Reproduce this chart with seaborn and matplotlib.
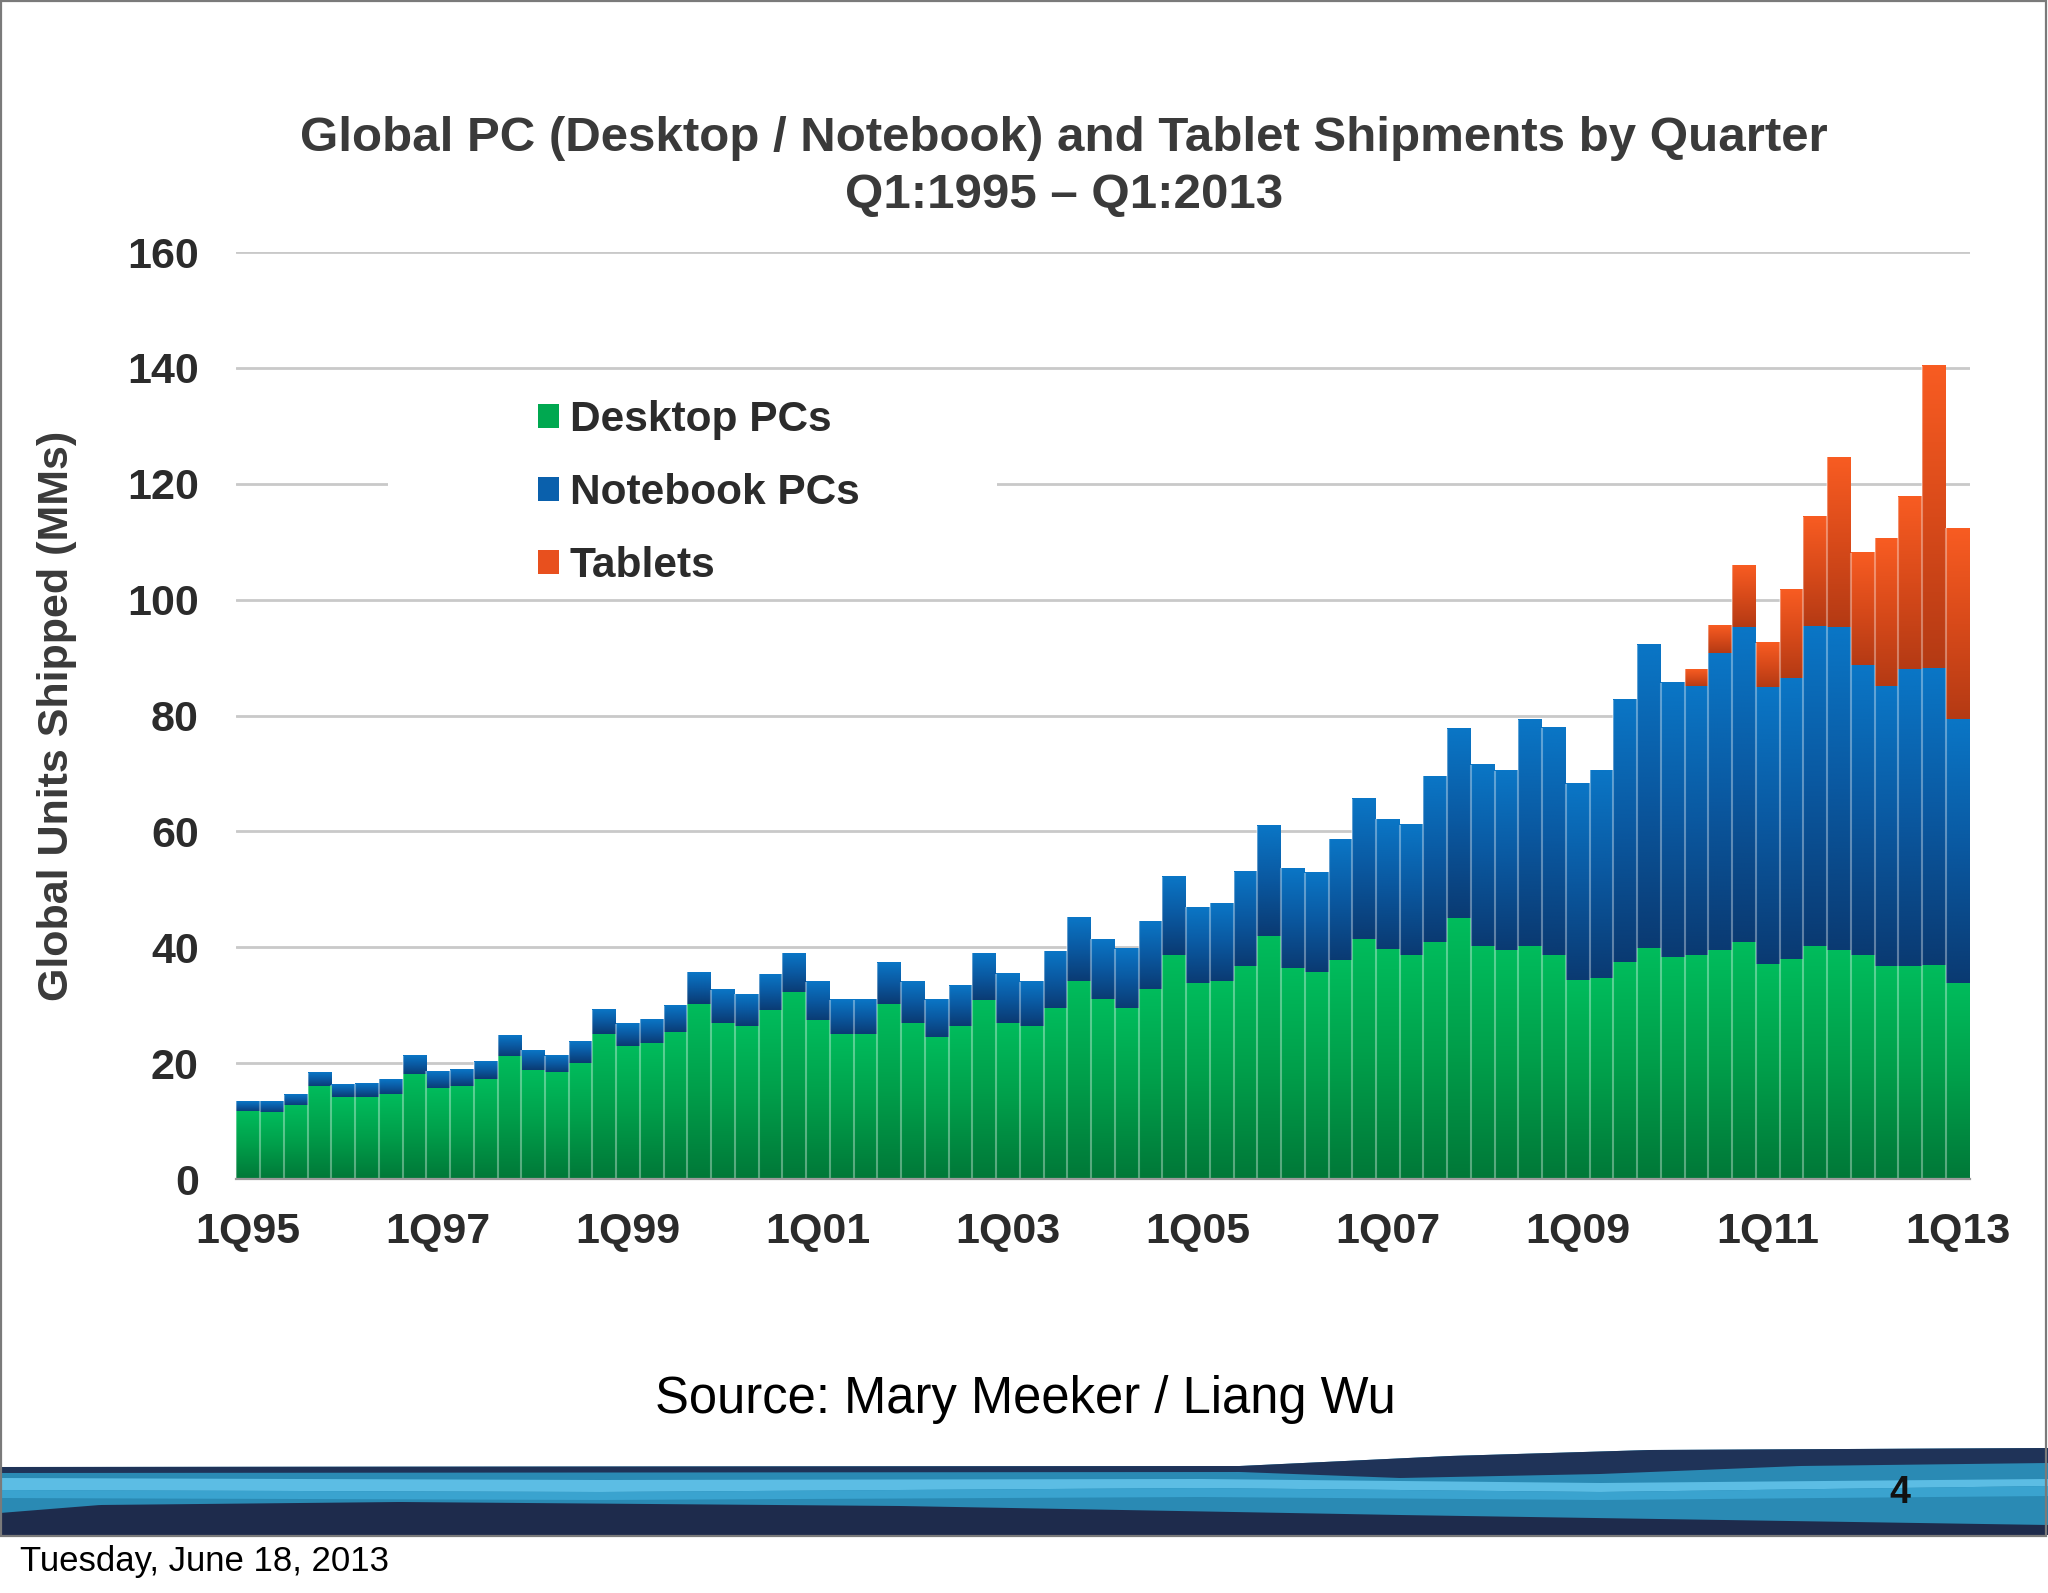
import numpy as np
import pandas as pd
import matplotlib
matplotlib.use("Agg")
import matplotlib.pyplot as plt
import seaborn as sns
from matplotlib.patches import Patch, Rectangle
from matplotlib.colors import LinearSegmentedColormap
import matplotlib.transforms as mtransforms

# ---------------- data ----------------
quarters = [f"{q}Q{y % 100:02d}" for y in range(1995, 2014) for q in range(1, 5)][:73]

desktop = [11.6, 11.4, 12.6, 15.9, 14.1, 14.1, 14.6, 18.0,
           15.6, 16.0, 17.2, 21.1, 18.8, 18.3, 20.0, 25.0,
           22.9, 23.4, 25.2, 30.2, 26.9, 26.4, 29.1, 32.2,
           27.3, 24.9, 24.9, 30.2, 26.9, 24.4, 26.4, 30.8,
           26.9, 26.4, 29.4, 34.1, 31.0, 29.4, 32.7, 38.6,
           33.7, 34.1, 36.7, 41.9, 36.3, 35.7, 37.7, 41.4,
           39.6, 38.6, 40.9, 44.9, 40.2, 39.4, 40.2, 38.6,
           34.3, 34.6, 37.4, 39.7, 38.3, 38.6, 39.4, 40.8,
           37.1, 37.9, 40.2, 39.4, 38.6, 36.7, 36.7, 36.9,
           33.8]

notebook = [1.8, 2.0, 2.0, 2.5, 2.2, 2.3, 2.7, 3.3,
            3.0, 2.9, 3.0, 3.7, 3.4, 3.0, 3.7, 4.2,
            3.9, 4.3, 4.7, 5.5, 5.8, 5.5, 6.3, 6.8,
            6.8, 6.1, 6.1, 7.1, 7.2, 6.6, 7.0, 8.2,
            8.5, 7.7, 9.9, 11.2, 10.4, 10.4, 11.8, 13.6,
            13.2, 13.5, 16.3, 19.0, 17.4, 17.1, 21.0, 24.2,
            22.5, 22.6, 28.6, 32.8, 31.3, 31.1, 39.1, 39.2,
            33.9, 36.0, 45.3, 52.5, 47.4, 46.3, 51.4, 54.5,
            47.8, 48.5, 55.1, 55.9, 49.9, 48.3, 51.2, 51.1,
            45.4]

tablets = [0.0] * 61 + [3.1, 4.8, 10.6, 7.6, 15.2, 19.0, 29.3,
                        19.6, 25.7, 29.9, 52.4, 33.1]

tick_labels = ["1Q95", "1Q97", "1Q99", "1Q01", "1Q03",
               "1Q05", "1Q07", "1Q09", "1Q11", "1Q13"]
series_names = ["Desktop PCs", "Notebook PCs", "Tablets"]

df = pd.DataFrame({"quarter": quarters, "desktop": desktop,
                   "notebook": notebook, "tablets": tablets})
df["pc"] = df["desktop"] + df["notebook"]
df["total"] = df["pc"] + df["tablets"]

# ---------------- style ----------------
sns.set_theme(style="white")
plt.rcParams["font.family"] = ["Liberation Sans", "DejaVu Sans"]

green, blue, orange = "#00a850", "#0a60ac", "#e8501e"
cm_green = LinearSegmentedColormap.from_list("g", ["#007838", "#009e4a", "#00bc5c"])
cm_blue = LinearSegmentedColormap.from_list("b", ["#0a3a72", "#0a58a0", "#0a76c6"])
cm_orange = LinearSegmentedColormap.from_list("o", ["#b43a14", "#d84a1a", "#f85c22"])

fig = plt.figure(figsize=(20.48, 15.93), dpi=100)
fig.patch.set_facecolor("white")

# overlay for slide decorations (pixel coords)
ov = fig.add_axes([0, 0, 1, 1], zorder=0)
ov.set_xlim(0, 2048)
ov.set_ylim(1593, 0)
ov.axis("off")

xs = np.linspace(0, 2048, 500)
top = np.interp(xs, [0, 1240, 1450, 1650, 2048], [1467, 1466, 1456, 1450, 1448])
ov.fill_between(xs, top, 1535, color="#2a8ab4", lw=0)
dark_lo = np.interp(xs, [0, 1240, 1400, 1600, 1800, 2048], [1473, 1472, 1478, 1474, 1466, 1463])
ov.fill_between(xs, top, dark_lo, color="#1f3358", lw=0)
s_up = np.interp(xs, [0, 600, 1200, 1600, 2048], [1478, 1480, 1479, 1483, 1479])
s_lo = np.interp(xs, [0, 600, 1200, 1600, 2048], [1490, 1492, 1488, 1492, 1486])
ov.fill_between(xs, s_up, s_lo, color="#5cbde4", lw=0)
m_lo = np.interp(xs, [0, 600, 1200, 1600, 2048], [1498, 1500, 1497, 1500, 1496])
ov.fill_between(xs, s_lo, m_lo, color="#3aa3cf", lw=0)
b_up = np.interp(xs, [0, 100, 400, 900, 1400, 2048], [1513, 1505, 1502, 1506, 1515, 1525])
ov.fill_between(xs, b_up, 1535, color="#1e2b4c", lw=0)
ov.add_patch(Rectangle((1, 1), 2045, 1535, fill=False, edgecolor="#7a7a7a", lw=1.6))

# ---------------- chart ----------------
ax = fig.add_axes([0.1154, 0.2598, 0.8463, 0.5820], zorder=1)
ax.set_facecolor("white")

common = dict(data=df, x="quarter", order=quarters, width=1.0, ax=ax,
              errorbar=None, saturation=1, linewidth=0, zorder=2)
sns.barplot(y="total", color=orange, **common)
sns.barplot(y="pc", color=blue, **common)
sns.barplot(y="desktop", color=green, **common)

grad = np.linspace(0, 1, 128).reshape(-1, 1)
layers = [(ax.containers[0], ax.containers[1], cm_orange),
          (ax.containers[1], ax.containers[2], cm_blue),
          (ax.containers[2], None, cm_green)]
for cont, below, cmap in layers:
    for i, p in enumerate(cont.patches):
        x0, w, h = p.get_x(), p.get_width(), p.get_height()
        b = below.patches[i].get_height() if below is not None else 0.0
        if h - b > 0.05:
            ax.imshow(grad, extent=[x0, x0 + w, b, h], aspect="auto", cmap=cmap,
                      origin="lower", zorder=3, interpolation="bilinear")

# thin light separators between bars
edges = [p.get_x() for p in ax.containers[0].patches]
heights = [p.get_height() for p in ax.containers[0].patches]
ax.vlines(edges, 0, heights, color="white", alpha=0.35, lw=1.5, zorder=4)

ax.set_xlim(-0.5, len(quarters) - 0.5)
ax.set_ylim(0, 160)

ax.set_axisbelow(True)
ax.yaxis.grid(True, color="#c9c9c9", lw=2)
ax.xaxis.grid(False)
for s in ["top", "right", "left"]:
    ax.spines[s].set_visible(False)
ax.spines["bottom"].set_color("#9a9a9a")
ax.spines["bottom"].set_linewidth(1.6)
ax.spines["bottom"].set_zorder(5)

ax.set_xticks(range(0, len(quarters), 8))
ax.set_xticklabels(tick_labels, fontsize=31, fontweight="bold", color="#2b2b2b")
ax.set_xticks(np.arange(-0.5, len(quarters), 1), minor=True)
ax.tick_params(axis="x", which="major", length=0, pad=24)
ax.tick_params(axis="x", which="minor", length=9, width=1.5, color="#9a9a9a", direction="out")
ax.set_yticks(range(0, 161, 20))
ax.set_yticklabels([str(v) for v in range(0, 161, 20)], fontsize=31,
                   fontweight="bold", color="#2b2b2b")
ax.tick_params(axis="y", length=0, pad=27)
ax.set_xlabel("")
ax.set_ylabel("Global Units Shipped (MMs)", fontsize=31, fontweight="bold", color="#3a3a3a")
ax.yaxis.set_label_coords(-0.092, 0.5)

# white box behind legend hiding the gridline
ax.add_patch(Rectangle((0.0874, 108), 0.3512, 24, facecolor="white", edgecolor="none",
                       transform=mtransforms.blended_transform_factory(ax.transAxes, ax.transData),
                       zorder=1))

handles = [Patch(facecolor=c, edgecolor="none") for c in [green, blue, orange]]
leg = ax.legend(handles, series_names, loc="upper left", bbox_to_anchor=(0.2627, 0.749),
                bbox_transform=fig.transFigure, frameon=False,
                prop={"weight": "bold", "size": 30.5}, handlelength=0.5, handleheight=0.5,
                handletextpad=0.25, labelspacing=0.78, borderpad=0, borderaxespad=0)
for t in leg.get_texts():
    t.set_color("#2b2b2b")
leg.set_zorder(6)

# ---------------- texts ----------------
fig.text(0.5196, 0.913, "Global PC (Desktop / Notebook) and Tablet Shipments by Quarter",
         ha="center", va="center", fontsize=35.5, fontweight="bold", color="#3a3a3a")
fig.text(0.5196, 0.8775, "Q1:1995 \u2013 Q1:2013", ha="center", va="center",
         fontsize=35.5, fontweight="bold", color="#3a3a3a")
fig.text(0.5005, 0.1215, "Source: Mary Meeker / Liang Wu", ha="center", va="center",
         fontsize=36.5, color="black")
fig.text(0.9277, 0.0628, "4", ha="center", va="center", fontsize=27,
         fontweight="bold", color="#111111")
fig.text(0.0096, 0.020, "Tuesday, June 18, 2013", ha="left", va="center",
         fontsize=25, color="black")

fig.savefig("out.png", dpi=100, facecolor="white")
